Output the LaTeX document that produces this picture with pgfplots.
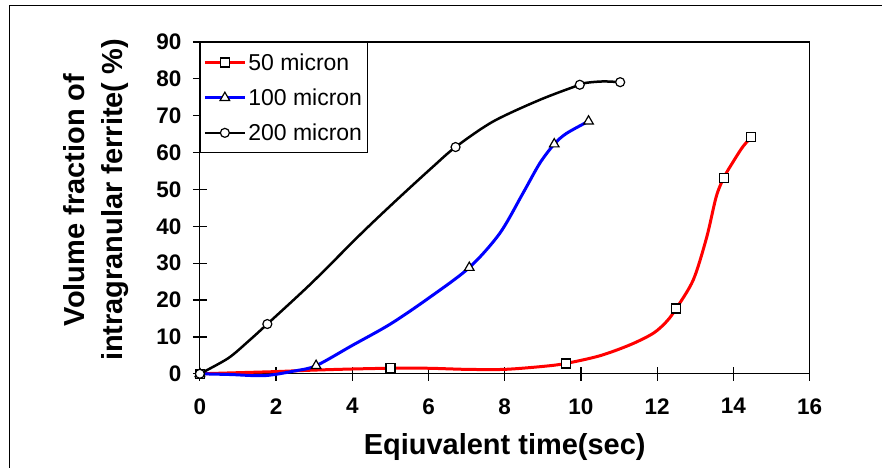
\documentclass[border=0pt]{standalone}
\usepackage{pgfplots}
\pgfplotsset{compat=1.18}
\usepackage{fontspec}
\setmainfont{Liberation Sans}

\begin{document}
\begin{tikzpicture}
\begin{axis}[
  at={(0pt,0pt)}, anchor=south west,
  scale only axis, width=610pt, height=332pt,
  xmin=0, xmax=16, ymin=0, ymax=90,
  xtick={0,2,...,16}, ytick={0,10,...,90},
  tick align=center, major tick length=14pt, tick pos=left,
  axis line style={line width=1.2pt},
  every tick/.style={black, line width=1.2pt},
  ticklabel style={font=\fontsize{22.5}{26}\selectfont\bfseries},
  /pgf/number format/assume math mode=true,
  xticklabel style={yshift=-14pt},
  yticklabel style={xshift=-8pt},
  xlabel={Eqiuvalent time(sec)},
  ylabel={Volume fraction of\\intragranular ferrite( \%)},
  label style={font=\fontsize{29}{38}\selectfont\bfseries},
  xlabel style={at={(axis description cs:0.5,0)}, anchor=base, yshift=-81pt},
  ylabel style={at={(axis description cs:-0.171,0.524)}, anchor=center, align=center},
  clip=false,
  legend cell align=left,
  legend style={at={(rel axis cs:0,1)}, anchor=north west, draw=black, line width=1pt,
    font=\fontsize{23}{26}\selectfont, row sep=13pt, inner ysep=9pt, inner xsep=3pt,
    /tikz/every even column/.append style={column sep=4pt}},
  legend image code/.code={%
    \draw[#1, mark=none] (0pt,0pt) -- (40pt,0pt);
    \draw[#1, only marks] plot coordinates {(20pt,0pt)};},
  every axis plot/.append style={smooth, tension=0.5},
  mark options={solid, fill=white, draw=black, line width=1.2pt},
]
% 50 micron
\addplot[red, line width=3pt, mark=square*, mark size=4.5pt,
  mark indices={1,6,11,16,20,23}] coordinates {
  (0,0) (1,0.3) (2,0.6) (3,1.0) (4,1.3) (5,1.5) (6,1.5) (7,1.2) (8,1.2) (9,2.0)
  (9.6,2.8) (10.5,4.9) (11.3,7.9) (11.9,11) (12.25,14.2) (12.5,17.7) (12.95,25.5)
  (13.3,37) (13.55,48) (13.75,53.2) (14.0,57.6) (14.25,61.6) (14.47,64.2)};
% 100 micron
\addplot[blue, line width=3pt, mark=triangle*, mark size=5.5pt,
  mark indices={1,5,9,13,15}] coordinates {
  (0,0) (0.8,-0.2) (1.7,-0.5) (2.5,0.8) (3.05,2.2) (4,7.7) (5,13.5) (6,20.5)
  (7.07,28.8) (7.87,38.1) (8.48,49) (8.92,57.1) (9.3,62.3) (9.62,65.2) (10.2,68.5)};
% 200 micron
\addplot[black, line width=2.5pt, mark=*, mark size=4.5pt,
  mark indices={1,4,9,12,15}] coordinates {
  (0,0) (0.74,4.2) (1.27,8.8) (1.77,13.5) (2.93,24.6) (4.24,38.1) (5.2,47.5)
  (6.12,56.2) (6.71,61.5) (7.69,68.4) (8.92,74.3) (9.97,78.4) (10.2,79.0)
  (10.6,79.3) (11.03,79.1)};
\legend{50 micron,100 micron,200 micron}
\end{axis}
\draw[line width=1pt] (-190pt,-94pt) -- (-190pt,368.5pt) -- (682pt,368.5pt);
\path[use as bounding box] (-200pt,-94pt) rectangle (682pt,374pt);
\end{tikzpicture}
\end{document}
